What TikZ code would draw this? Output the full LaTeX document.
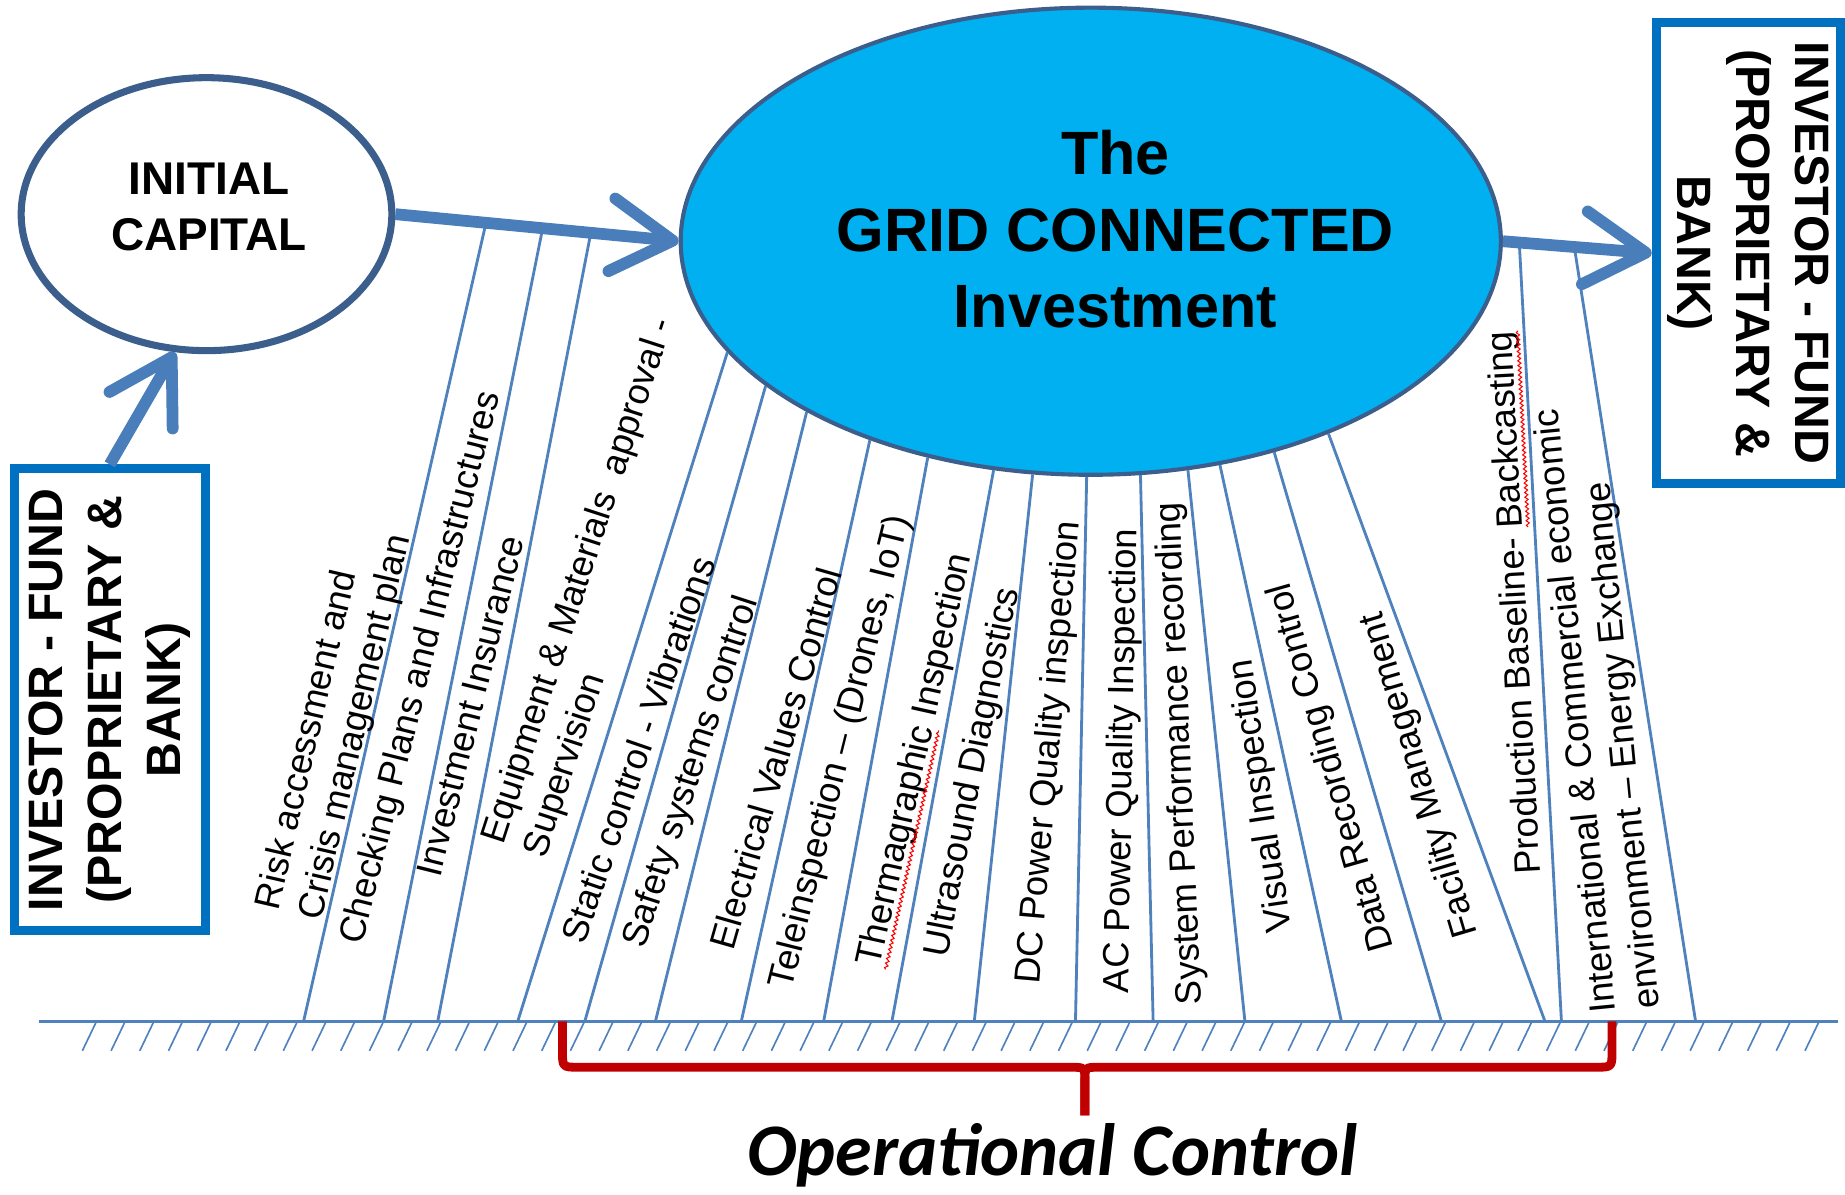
\documentclass[tikz,border=0pt]{standalone}
\usepackage{fontspec}
\setmainfont{Liberation Sans}
\newfontfamily\calib{Carlito}
\usetikzlibrary{arrows.meta,shapes.geometric,calc,decorations.pathmorphing}
\definecolor{lineblue}{RGB}{79,129,189}
\definecolor{arrblue}{RGB}{74,126,187}
\definecolor{ellborder}{RGB}{59,94,140}
\definecolor{ellfill}{RGB}{0,176,240}
\definecolor{boxblue}{RGB}{0,112,192}
\definecolor{bracered}{RGB}{192,0,0}
\tikzset{
  lbl/.style={font=\fontsize{31}{37.5}\selectfont, inner sep=0pt, anchor=west},
  ctrlline/.style={draw=lineblue, line width=2.4pt},
  bigarrow/.style={draw=arrblue, line width=10pt, -{Straight Barb[length=52pt,width=62pt,round]}},
  boxnode/.style={draw=boxblue, line width=7.5pt, fill=white, inner sep=0pt, align=center,
    font=\bfseries\fontsize{41}{50}\selectfont},
  groundline/.style={draw=lineblue, line width=2pt},
  hatchline/.style={draw=lineblue, line width=1.4pt},
  bracepath/.style={draw=bracered, line width=7.5pt, line join=round},
  spellwave/.style={draw=red, line width=0.9pt, decorate, decoration={snake, amplitude=1.3pt, segment length=4pt}}
}
\begin{document}
\begin{tikzpicture}[x=1pt,y=-1pt]
\useasboundingbox (0,0) rectangle (1568,1015);

% main shapes
\node[ellipse, draw=ellborder, line width=3.5pt, fill=ellfill, minimum width=697, minimum height=397, inner sep=0pt] (big) at (927,205) {};
\node[font=\bfseries\fontsize{52}{65}\selectfont, align=center] (bigtxt) at (948,195) {The\\GRID CONNECTED\\Investment};
\node[ellipse, draw=ellborder, line width=6pt, fill=white, minimum width=315, minimum height=232, inner sep=0pt] (ic) at (175.5,182) {};
\node[font=\bfseries\fontsize{39}{48}\selectfont, align=center] (ictxt) at (177.5,176) {INITIAL\\CAPITAL};
\node[boxnode, rotate=90, minimum width=392.6, minimum height=162.5] (lb) at (93.3,594.7) {INVESTOR - FUND\\(PROPRIETARY \&\\BANK)};
\node[boxnode, rotate=-90, minimum width=391.7, minimum height=156.5] (rb) at (1485.7,215.2) {INVESTOR - FUND\\(PROPRIETARY \&\\BANK)};

% ground
\coordinate (gl) at (33,868);
\coordinate (gr) at (1562,868);
\draw[groundline] (gl) -- (gr);
\foreach \i in {0,...,60} \draw[hatchline] ({82+24.4*\i},868) -- ++(-12,25);

% ground end points
\foreach \n/\x in {1/258,2/326,3/372,4/440,5/497,6/557,7/630,8/700,9/758,10/828,11/914,12/980,13/1058,14/1140,15/1225,16/1313,17/1327,18/1441}
  \coordinate (g\n) at (\x,868);

% points on arrow shafts
\coordinate (s1) at ($(ic.east)!0.32!(big.west)$);
\coordinate (s2) at ($(ic.east)!0.52!(big.west)$);
\coordinate (s3) at ($(ic.east)!0.69!(big.west)$);
\coordinate (s17) at ($(big.east)!0.11!(rb.south)$);
\coordinate (s18) at ($(big.east)!0.48!(rb.south)$);

% control lines
\draw[ctrlline] (s1) -- (g1);
\draw[ctrlline] (s2) -- (g2);
\draw[ctrlline] (s3) -- (g3);
\draw[ctrlline] (big.197.5) -- (g4);
\draw[ctrlline] (big.204.6) -- (g5);
\draw[ctrlline] (big.211) -- (g6);
\draw[ctrlline] (big.222.6) -- (g7);
\draw[ctrlline] (big.233.4) -- (g8);
\draw[ctrlline] (big.247.3) -- (g9);
\draw[ctrlline] (big.256.7) -- (g10);
\draw[ctrlline] (big.269.4) -- (g11);
\draw[ctrlline] (big.282.2) -- (g12);
\draw[ctrlline] (big.293.6) -- (g13);
\draw[ctrlline] (big.300.2) -- (g14);
\draw[ctrlline] (big.311) -- (g15);
\draw[ctrlline] (big.321.6) -- (g16);
\draw[ctrlline] (s17) -- (g17);
\draw[ctrlline] (s18) -- (g18);

% big arrows
\draw[bigarrow] (lb.east) -- (ic.-103);
\draw[bigarrow] (ic.east) -- (big.west);
\draw[bigarrow] (big.east) -- (rb.south);

% labels
\node[lbl, rotate=77, align=left] (t1) at (247,777) {Risk accessment and\\Crisis management plan};
\node[lbl, rotate=76] (t2) at (300,802) {Checking Plans and Infrastructures};
\node[lbl, rotate=76] (t3) at (364,744) {Investment Insurance};
\node[lbl, rotate=72, align=left] (t4) at (438,722) {Equipment \& Materials\ \ approval -\\Supervision};
\node[lbl, rotate=71] (t5) at (486,800) {Static control - Vibrations};
\node[lbl, rotate=72] (t6) at (540,805) {Safety systems control};
\node[lbl, rotate=74] (t7) at (613,806) {Electrical Values Control};
\node[lbl, rotate=76] (t8) at (665,840) {Teleinspection – (Drones, IoT)};
\node[lbl, rotate=77.5] (t9) at (740,821) {Thermagraphic Inspection};
\node[lbl, rotate=79] (t10) at (797,813) {Ultrasound Diagnostics};
\node[lbl, rotate=85] (t11) at (875,836) {DC Power Quality inspection};
\node[lbl, rotate=89] (t12) at (951,844) {AC Power Quality Inspection};
\node[lbl, rotate=92.5] (t13) at (1013,854) {System Performance recording};
\node[lbl, rotate=98.5] (t14) at (1090,792) {Visual Inspection};
\node[lbl, rotate=106] (t15) at (1177,808) {Data Recording Control};
\node[lbl, rotate=106.5] (t16) at (1248,796) {Facility Management};
\node[lbl, rotate=93] (t17) at (1301,743) {Production Baseline- Backcasting};
\node[lbl, rotate=95.5, align=left] (t18) at (1384,859) {International \& Commercial economic\\environment – Energy Exchange};

% spell-check squiggles
\draw[spellwave, shift={(t9.base west)}, rotate=77.5] (0,5) -- (208,5);
\draw[spellwave, shift={(t17.base west)}, rotate=93] (295,5) -- (462,5);

% brace
\coordinate (bl) at (478,868);
\coordinate (bm) at (922,948);
\coordinate (br) at (1370,868);
\draw[bracepath] (bl) -- (478,893) .. controls (478,907) .. (492,907) -- (910,907) .. controls (922,907) .. (922,919) -- (bm);
\draw[bracepath] (bm) -- (922,919) .. controls (922,907) .. (934,907) -- (1356,907) .. controls (1370,907) .. (1370,893) -- (br);

\node[font=\calib\bfseries\itshape\fontsize{63}{70}\selectfont, anchor=base, inner sep=0pt] (opc) at (894.5,999) {Operational Control};
\end{tikzpicture}
\end{document}
